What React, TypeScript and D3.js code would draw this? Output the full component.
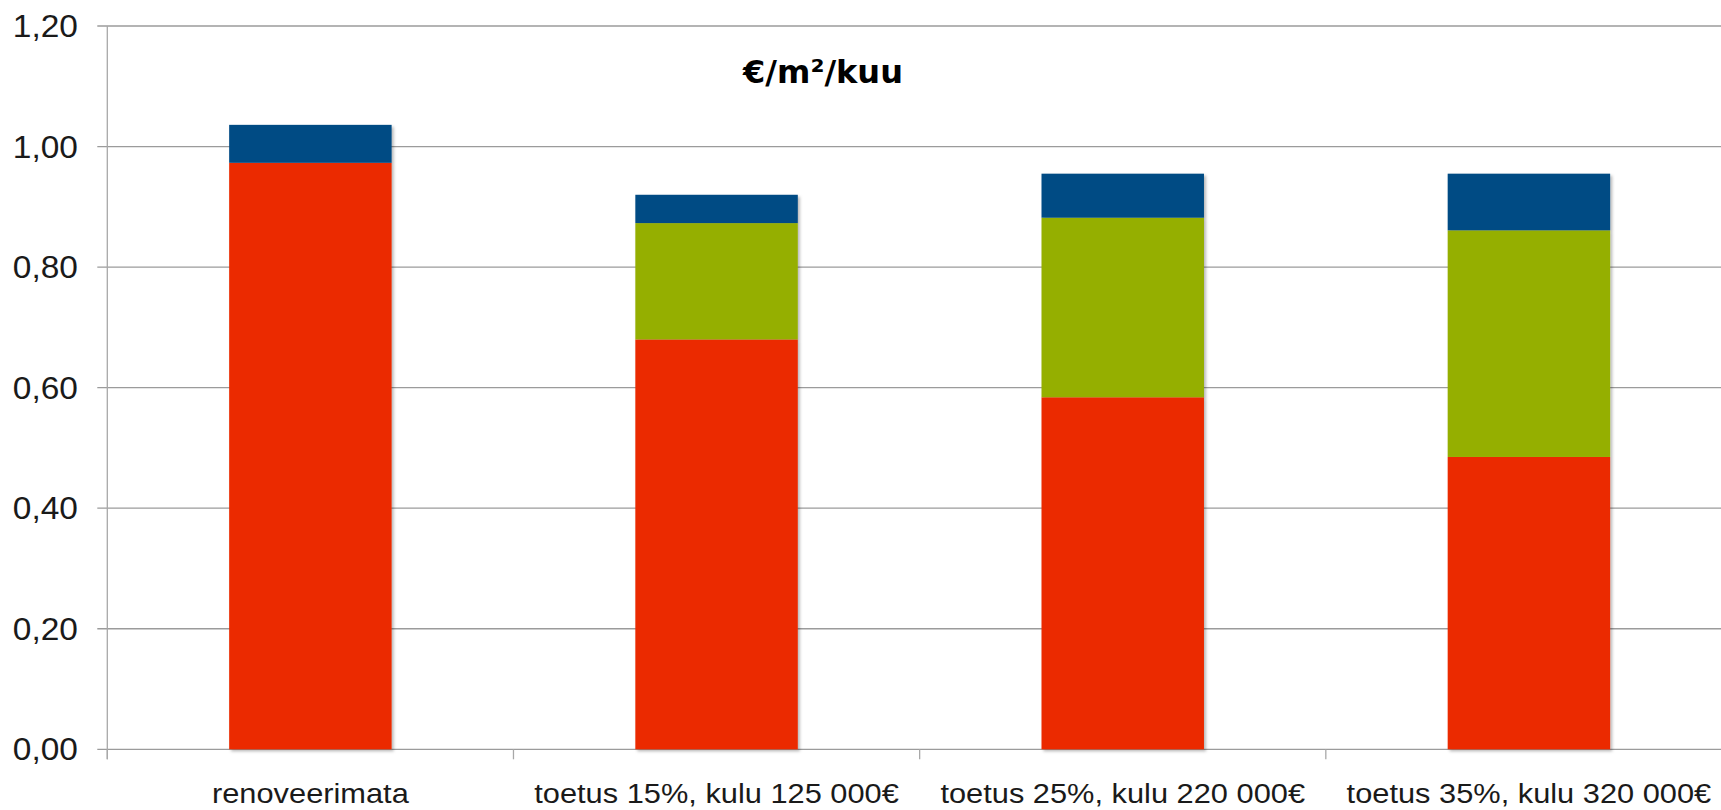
import { useEffect, useRef } from 'react'
import * as d3 from 'd3'

const categories = [
  'renoveerimata',
  'toetus 15%, kulu 125 000€',
  'toetus 25%, kulu 220 000€',
  'toetus 35%, kulu 320 000€'
]
const redValues = [0.973, 0.68, 0.584, 0.485]
const greenValues = [0, 0.193, 0.298, 0.376]
const blueValues = [0.063, 0.047, 0.073, 0.094]
const yTicks = [0, 0.2, 0.4, 0.6, 0.8, 1.0, 1.2]
const title = '€/m²/kuu'

const seriesKeys = ['red', 'green', 'blue']
const seriesColors: Record<string, string> = {
  red: '#eb2a06',
  green: '#95af03',
  blue: '#004c84'
}

const W = 1721
const H = 810

export default function App() {
  const svgRef = useRef<SVGSVGElement>(null)

  useEffect(() => {
    if (!svgRef.current) return
    const svg = d3.select(svgRef.current)
    svg.selectAll('*').remove()

    const left = 107.3
    const right = 1732
    const top = 26
    const bottom = 749.3

    const rows = categories.map((c, i) => ({
      category: c,
      red: redValues[i],
      green: greenValues[i],
      blue: blueValues[i]
    }))

    const x = d3.scaleBand<string>().domain(categories).range([left, right]).padding(0)
    const y = d3.scaleLinear().domain([0, 1.2]).range([bottom, top])

    const stacked = d3.stack<any>().keys(seriesKeys)(rows)

    const defs = svg.append('defs')
    const filter = defs.append('filter').attr('id', 'barShadow')
      .attr('x', '-10%').attr('y', '-10%').attr('width', '130%').attr('height', '130%')
    filter.append('feDropShadow')
      .attr('dx', 2).attr('dy', 2).attr('stdDeviation', 1.6)
      .attr('flood-color', '#000').attr('flood-opacity', 0.28)

    // gridlines
    svg.append('g')
      .selectAll('line')
      .data(yTicks)
      .join('line')
      .attr('x1', left - 10)
      .attr('x2', W)
      .attr('y1', d => y(d))
      .attr('y2', d => y(d))
      .attr('stroke', '#9b9b9b')
      .attr('stroke-width', 1.3)

    // y axis line
    svg.append('line')
      .attr('x1', left).attr('x2', left)
      .attr('y1', top).attr('y2', bottom + 10)
      .attr('stroke', '#a8a8a8')
      .attr('stroke-width', 1.3)

    // category ticks
    const tickXs = categories.map(c => x(c) as number).concat([right])
    svg.append('g')
      .selectAll('line')
      .data(tickXs)
      .join('line')
      .attr('x1', d => d).attr('x2', d => d)
      .attr('y1', bottom).attr('y2', bottom + 10)
      .attr('stroke', '#a8a8a8')
      .attr('stroke-width', 1.3)

    // y labels
    svg.append('g')
      .selectAll('text')
      .data(yTicks)
      .join('text')
      .attr('transform', d => `translate(78,${y(d) + 11}) scale(1.08,1)`)
      .attr('text-anchor', 'end')
      .attr('font-family', '"Liberation Sans", Arial, sans-serif')
      .attr('font-size', 31)
      .attr('fill', '#1a1a1a')
      .text(d => d3.format('.2f')(d).replace('.', ','))

    // bars
    const barOffset = x.bandwidth() * 0.3
    const barWidth = x.bandwidth() * 0.4
    const barsG = svg.append('g').attr('filter', 'url(#barShadow)')
    stacked.forEach(layer => {
      barsG.append('g')
        .attr('fill', seriesColors[layer.key])
        .selectAll('rect')
        .data(layer.filter(d => d[1] - d[0] > 0))
        .join('rect')
        .attr('x', d => (x(d.data.category) as number) + barOffset)
        .attr('width', barWidth)
        .attr('y', d => y(d[1]))
        .attr('height', d => y(d[0]) - y(d[1]))
    })

    // x labels
    svg.append('g')
      .selectAll('text')
      .data(categories)
      .join('text')
      .attr('transform', d => `translate(${(x(d) as number) + x.bandwidth() / 2},803) scale(1.12,1)`)
      .attr('text-anchor', 'middle')
      .attr('font-family', '"Liberation Sans", Arial, sans-serif')
      .attr('font-size', 27.5)
      .attr('fill', '#1a1a1a')
      .text(d => d)

    // title
    svg.append('text')
      .attr('x', 823)
      .attr('y', 83)
      .attr('text-anchor', 'middle')
      .attr('font-family', '"DejaVu Sans", sans-serif')
      .attr('font-weight', 'bold')
      .attr('font-size', 32)
      .attr('fill', '#000')
      .text(title)
  }, [])

  return (
    <svg
      ref={svgRef}
      width={W}
      height={H}
      style={{ position: 'absolute', left: 0, top: 0, background: '#fff' }}
    />
  )
}
